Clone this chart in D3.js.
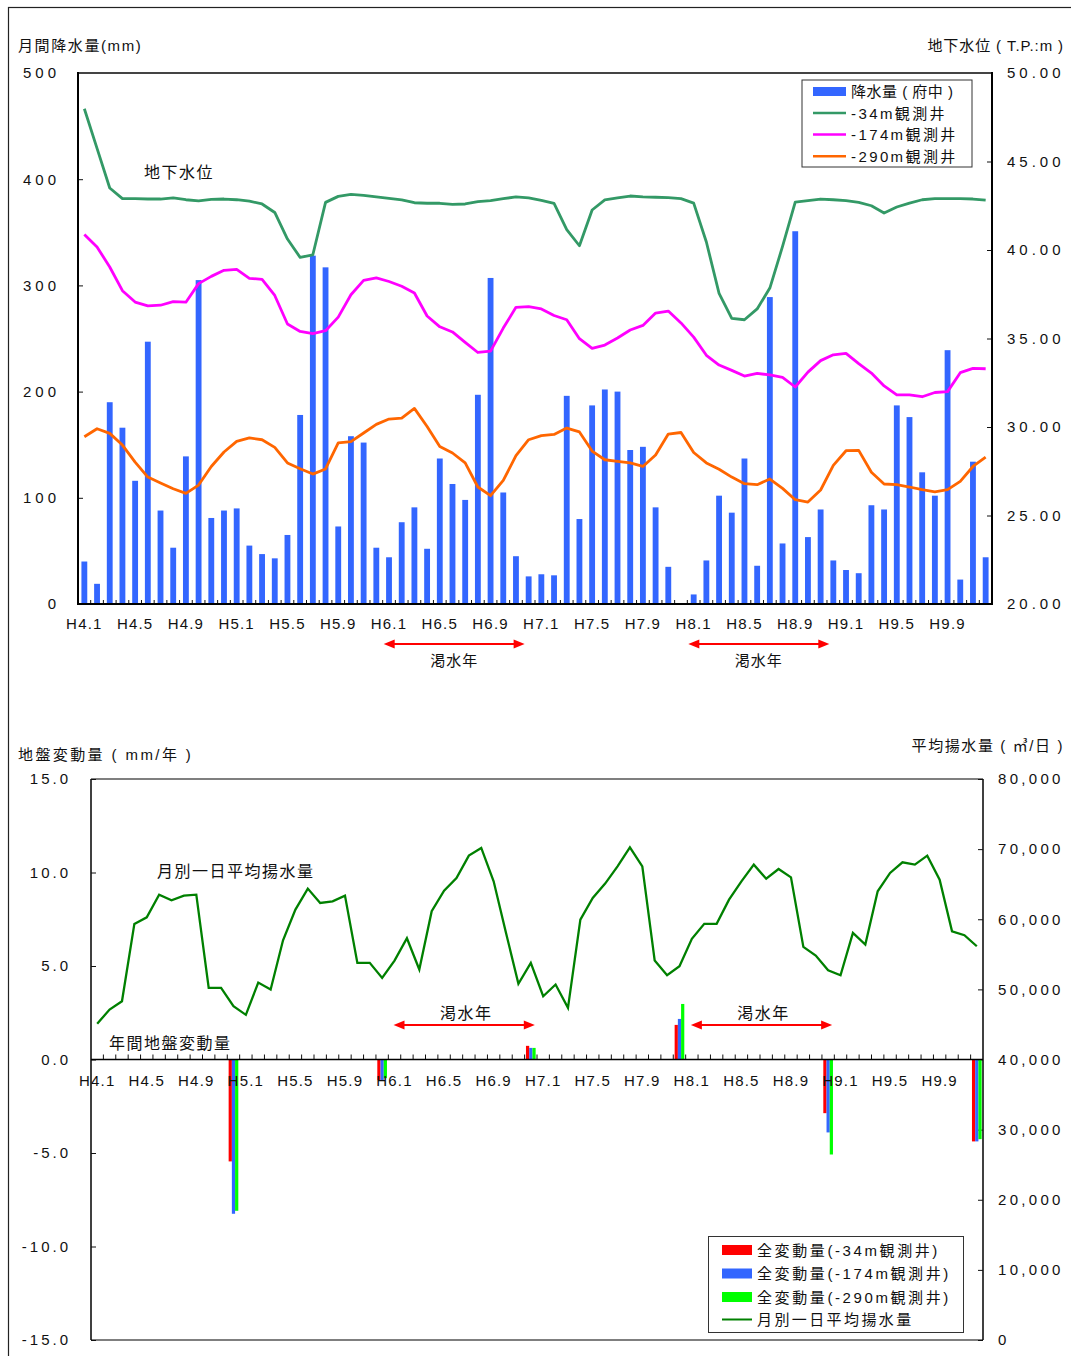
<!DOCTYPE html>
<head>
  <meta charset="utf-8">
  <title>降水量・地下水位・地盤変動量</title>
  <style>
    body { margin: 0; background: #fff; }
    svg { font-family: 'Liberation Sans', Arial, 'Noto Sans CJK JP', sans-serif; fill: #111; }
    .tick text { font-size: 15px; fill: #111; }
  </style>
</head>
<body>
  <div id="chart"></div>
  <script src="https://d3js.org/d3.v7.min.js"></script>
  <script>
    // categories
    let years = [4, 5, 6, 7, 8, 9];
    let months = years.flatMap(y => d3.range(1, 13).map(m => `H${y}.${m}`));
    let tickLabels = ['H4.1', 'H4.5', 'H4.9', 'H5.1', 'H5.5', 'H5.9', 'H6.1', 'H6.5', 'H6.9',
      'H7.1', 'H7.5', 'H7.9', 'H8.1', 'H8.5', 'H8.9', 'H9.1', 'H9.5', 'H9.9'];

    // monthly rainfall (mm)
    let rain = [40, 19, 190, 166, 116, 247, 88, 53, 139, 305, 81, 88,
      90, 55, 47, 43, 65, 178, 328, 317, 73, 158, 152, 53,
      44, 77, 91, 52, 137, 113, 98, 197, 307, 105, 45, 26,
      28, 27, 196, 80, 187, 202, 200, 145, 148, 91, 35, 0,
      9, 41, 102, 86, 137, 36, 289, 57, 351, 63, 89, 41,
      32, 29, 93, 89, 187, 176, 124, 102, 239, 23, 134, 44];

    // groundwater level (T.P. m)
    let well34 = [47.98, 45.74, 43.5, 42.9, 42.9, 42.88, 42.88, 42.94, 42.84, 42.77, 42.86, 42.88,
      42.84, 42.76, 42.6, 42.12, 40.62, 39.58, 39.73, 42.69, 43.03, 43.14, 43.09, 43.0,
      42.92, 42.83, 42.67, 42.64, 42.64, 42.58, 42.6, 42.73, 42.79, 42.9, 43.0, 42.94,
      42.81, 42.64, 41.15, 40.24, 42.26, 42.83, 42.94, 43.05, 43.0, 42.98, 42.96, 42.9,
      42.65, 40.45, 37.55, 36.14, 36.06, 36.67, 37.85, 40.2, 42.71, 42.79, 42.88, 42.84,
      42.79, 42.69, 42.5, 42.09, 42.43, 42.65, 42.84, 42.9, 42.9, 42.9, 42.88, 42.82];
    let well174 = [40.88, 40.17, 39.04, 37.7, 37.06, 36.84, 36.88, 37.08, 37.05, 38.1, 38.51, 38.85,
      38.9, 38.4, 38.34, 37.43, 35.82, 35.4, 35.27, 35.44, 36.21, 37.47, 38.28, 38.42,
      38.22, 37.95, 37.57, 36.27, 35.66, 35.37, 34.78, 34.21, 34.29, 35.59, 36.76, 36.8,
      36.67, 36.3, 36.06, 34.99, 34.44, 34.63, 35.03, 35.48, 35.74, 36.44, 36.55, 35.88,
      35.08, 34.05, 33.5, 33.2, 32.88, 33.03, 32.94, 32.8, 32.26, 33.1, 33.75, 34.08,
      34.16, 33.58, 33.05, 32.32, 31.81, 31.82, 31.71, 31.95, 32.0, 33.07, 33.31, 33.29];
    let well290 = [29.45, 29.9, 29.64, 28.98, 28.02, 27.17, 26.84, 26.51, 26.25, 26.72, 27.77, 28.59,
      29.19, 29.38, 29.28, 28.85, 27.97, 27.64, 27.34, 27.63, 29.1, 29.17, 29.66, 30.15,
      30.45, 30.5, 31.05, 30.03, 28.9, 28.53, 27.97, 26.61, 26.12, 26.98, 28.38, 29.28,
      29.51, 29.58, 29.94, 29.72, 28.64, 28.15, 28.06, 27.97, 27.77, 28.42, 29.6, 29.69,
      28.56, 27.97, 27.61, 27.17, 26.8, 26.74, 27.06, 26.53, 25.89, 25.76, 26.44, 27.83,
      28.66, 28.68, 27.44, 26.78, 26.74, 26.61, 26.46, 26.34, 26.46, 26.93, 27.77, 28.3];

    // monthly average daily pumping (m3/day)
    let pumping = [45090, 47130, 48310, 59340, 60280, 63510, 62700, 63370, 63510, 50210, 50210, 47600,
      46370, 50970, 49980, 57000, 61380, 64370, 62330, 62560, 63370, 53780, 53780, 51640,
      54110, 57290, 52830, 61140, 64080, 65890, 69070, 70170, 65410, 58050, 50790, 53780,
      49020, 50690, 47360, 59950, 63040, 65080, 67550, 70260, 67550, 54110, 52020, 53300,
      57200, 59340, 59340, 62800, 65410, 67790, 65790, 67170, 65980, 56060, 54820, 52730,
      52010, 58050, 56390, 63980, 66600, 68120, 67790, 69070, 65650, 58290, 57720, 56150];

    // annual ground subsidence (mm/year)
    let yearEnds = ['H4.12', 'H5.12', 'H6.12', 'H7.12', 'H8.12', 'H9.12'];
    let chg34 = [-5.45, -1.1, 0.73, 1.85, -2.87, -4.38];
    let chg174 = [-8.25, -1.1, 0.62, 2.17, -3.9, -4.38];
    let chg290 = [-8.09, -1.0, 0.62, 2.97, -5.08, -4.26];

    let droughts = [['H6.1', 'H6.12'], ['H8.1', 'H8.12']];

    let svg = d3.select('#chart').append('svg')
      .attr('width', 1071).attr('height', 1356);

    svg.append('rect').attr('x', 8.5).attr('y', 7.5).attr('width', 1080).attr('height', 1370)
      .attr('fill', 'none').attr('stroke', '#222').attr('stroke-width', 1.2);

    function arrow(g, x0, x1, y) {
      g.append('line').attr('x1', x0 + 9).attr('x2', x1 - 9).attr('y1', y).attr('y2', y)
        .attr('stroke', '#ff0000').attr('stroke-width', 2);
      g.append('path').attr('fill', '#ff0000')
        .attr('d', `M${x0},${y}L${x0 + 11},${y - 4.5}L${x0 + 11},${y + 4.5}Z`);
      g.append('path').attr('fill', '#ff0000')
        .attr('d', `M${x1},${y}L${x1 - 11},${y - 4.5}L${x1 - 11},${y + 4.5}Z`);
    }

    function label(txt, x, y, size, anchor, ls) {
      svg.append('text').attr('x', x).attr('y', y).attr('font-size', size)
        .attr('text-anchor', anchor || 'start').attr('letter-spacing', ls || 0)
        .text(txt);
    }

    // ---------- top chart ----------
    let t = { left: 78, right: 992, top: 73, bottom: 604 };
    let x1 = d3.scaleBand().domain(months).range([t.left, t.right]);
    let bw1 = x1.bandwidth();
    let yRain = d3.scaleLinear().domain([0, 500]).range([t.bottom, t.top]);
    let yLevel = d3.scaleLinear().domain([20, 50]).range([t.bottom, t.top]);

    svg.selectAll('.rain').data(rain).join('rect')
      .attr('class', 'rain')
      .attr('x', (d, i) => x1(months[i]) + bw1 * 0.27)
      .attr('width', bw1 * 0.46)
      .attr('y', d => yRain(d))
      .attr('height', d => yRain(0) - yRain(d))
      .attr('fill', '#3366ff');

    let lineTop = d3.line().x((d, i) => x1(months[i]) + bw1 / 2).y(d => yLevel(d));
    [[well34, '#339966'], [well174, '#ff00ff'], [well290, '#ff6600']].forEach(([s, c]) => {
      svg.append('path').datum(s).attr('d', lineTop)
        .attr('fill', 'none').attr('stroke', c).attr('stroke-width', 2.8)
        .attr('stroke-linejoin', 'round');
    });

    svg.append('g').attr('transform', `translate(${t.left},0)`)
      .call(d3.axisLeft(yRain).tickValues(d3.range(0, 501, 100)).tickSize(-5).tickPadding(18))
      .call(g => g.select('.domain').remove())
      .call(g => g.selectAll('.tick text').attr('letter-spacing', 4))
      .call(g => g.selectAll('.tick line').attr('stroke', '#111'));
    svg.append('g').attr('transform', `translate(${t.right},0)`)
      .call(d3.axisRight(yLevel).tickValues(d3.range(20, 51, 5)).tickSize(-5).tickPadding(15)
        .tickFormat(d3.format('.2f')))
      .call(g => g.select('.domain').remove())
      .call(g => g.selectAll('.tick text').attr('letter-spacing', 4))
      .call(g => g.selectAll('.tick line').attr('stroke', '#111'));
    svg.append('g').attr('transform', `translate(0,${t.bottom})`)
      .call(d3.axisBottom(x1).tickValues(tickLabels).tickSize(0).tickPadding(14))
      .call(g => g.select('.domain').remove())
      .call(g => g.selectAll('.tick text').attr('font-size', 14).attr('letter-spacing', 1.2));
    svg.append('g').selectAll('line').data(months.slice(1)).join('line')
      .attr('x1', d => x1(d)).attr('x2', d => x1(d))
      .attr('y1', t.bottom).attr('y2', t.bottom - 4)
      .attr('stroke', '#111').attr('stroke-width', 1);

    svg.append('line').attr('x1', t.left).attr('x2', t.right).attr('y1', t.top).attr('y2', t.top)
      .attr('stroke', '#444').attr('stroke-width', 2);
    svg.append('line').attr('x1', t.left).attr('x2', t.right).attr('y1', t.bottom).attr('y2', t.bottom)
      .attr('stroke', '#000').attr('stroke-width', 2);
    [t.left, t.right].forEach(x => svg.append('line').attr('x1', x).attr('x2', x)
      .attr('y1', t.top - 1).attr('y2', t.bottom + 1).attr('stroke', '#000').attr('stroke-width', 2));

    label('月間降水量(mm)', 18, 51, 15, 'start', 1.6);
    label('地下水位 ( T.P.:m )', 1064, 51, 15, 'end', 0.9);
    label('地下水位', 144, 178, 16, 'start', 1.5);

    let arrTop = svg.append('g');
    droughts.forEach(([a, b]) => {
      let xa = x1(a) + 1, xb = x1(b) + bw1 / 2 - 4;
      arrow(arrTop, xa, xb, 644);
      label('渇水年', (xa + xb) / 2, 666, 15, 'middle', 1);
    });

    let lg1 = svg.append('g');
    lg1.append('rect').attr('x', 802).attr('y', 80).attr('width', 170).attr('height', 87)
      .attr('fill', '#fff').attr('stroke', '#333').attr('stroke-width', 1);
    lg1.append('rect').attr('x', 813).attr('y', 87).attr('width', 33).attr('height', 9).attr('fill', '#3366ff');
    [['-34m観測井', '#339966'], ['-174m観測井', '#ff00ff'], ['-290m観測井', '#ff6600']].forEach(([txt, c], i) => {
      let y = 113 + i * 21.6;
      lg1.append('line').attr('x1', 813).attr('x2', 846).attr('y1', y).attr('y2', y)
        .attr('stroke', c).attr('stroke-width', 2.5);
      lg1.append('text').attr('x', 851).attr('y', y + 5.5).attr('font-size', 15)
        .attr('letter-spacing', 2.4).text(txt);
    });
    lg1.append('text').attr('x', 851).attr('y', 97).attr('font-size', 15).attr('letter-spacing', 0.5)
      .text('降水量 ( 府中 )');

    // ---------- bottom chart ----------
    let b = { left: 91, right: 983, top: 779, bottom: 1340 };
    let x2 = d3.scaleBand().domain(months).range([b.left, b.right]);
    let bw2 = x2.bandwidth();
    let yChg = d3.scaleLinear().domain([-15, 15]).range([b.bottom, b.top]);
    let yPump = d3.scaleLinear().domain([0, 80000]).range([b.bottom, b.top]);

    svg.append('line').attr('x1', b.left).attr('x2', b.right).attr('y1', b.top).attr('y2', b.top)
      .attr('stroke', '#555').attr('stroke-width', 1.5);
    svg.append('line').attr('x1', b.left).attr('x2', b.right).attr('y1', b.bottom).attr('y2', b.bottom)
      .attr('stroke', '#555').attr('stroke-width', 1.5);
    [b.left, b.right].forEach(x => svg.append('line').attr('x1', x).attr('x2', x)
      .attr('y1', b.top).attr('y2', b.bottom).attr('stroke', '#000').attr('stroke-width', 1.5));

    svg.append('g').attr('transform', `translate(${b.left},0)`)
      .call(d3.axisLeft(yChg).tickValues(d3.range(-15, 16, 5)).tickSize(-5).tickPadding(20)
        .tickFormat(d => d.toFixed(1)))
      .call(g => g.select('.domain').remove())
      .call(g => g.selectAll('.tick text').attr('letter-spacing', 3))
      .call(g => g.selectAll('.tick line').attr('stroke', '#111'));
    svg.append('g').attr('transform', `translate(${b.right},0)`)
      .call(d3.axisRight(yPump).tickValues(d3.range(0, 80001, 10000)).tickSize(-5).tickPadding(15)
        .tickFormat(d => d === 0 ? '0' : d3.format(',')(d)))
      .call(g => g.select('.domain').remove())
      .call(g => g.selectAll('.tick text').attr('letter-spacing', 3.3))
      .call(g => g.selectAll('.tick line').attr('stroke', '#111'));

    let zeroY = yChg(0);
    svg.append('g').selectAll('line').data(months.slice(1)).join('line')
      .attr('x1', d => x2(d)).attr('x2', d => x2(d))
      .attr('y1', zeroY).attr('y2', zeroY - 5)
      .attr('stroke', '#111').attr('stroke-width', 1);

    let sub = bw2 * 0.26;
    [[chg34, '#ff0000'], [chg174, '#3366ff'], [chg290, '#00ff00']].forEach(([s, c], k) => {
      svg.append('g').selectAll('rect').data(s).join('rect')
        .attr('x', (d, i) => x2(yearEnds[i]) + bw2 / 2 - 1.5 * sub + k * sub)
        .attr('width', sub)
        .attr('y', d => Math.min(yChg(d), zeroY))
        .attr('height', d => Math.abs(yChg(d) - zeroY))
        .attr('fill', c);
    });

    svg.append('line').attr('x1', b.left).attr('x2', b.right).attr('y1', zeroY).attr('y2', zeroY)
      .attr('stroke', '#000').attr('stroke-width', 1.5);

    svg.append('g').attr('transform', `translate(0,${zeroY})`)
      .call(d3.axisBottom(x2).tickValues(tickLabels).tickSize(0).tickPadding(16))
      .call(g => g.select('.domain').remove())
      .call(g => g.selectAll('.tick text').attr('font-size', 14).attr('letter-spacing', 1.2));

    let linePump = d3.line().x((d, i) => x2(months[i]) + bw2 / 2).y(d => yPump(d));
    svg.append('path').datum(pumping).attr('d', linePump)
      .attr('fill', 'none').attr('stroke', '#008000').attr('stroke-width', 2.3);

    label('地盤変動量 ( mm/年 )', 18, 760, 15, 'start', 2.4);
    label('平均揚水量 ( ㎥/日 )', 1064, 751, 15, 'end', 1.6);
    label('月別一日平均揚水量', 157, 877, 16, 'start', 1.5);
    label('年間地盤変動量', 109, 1049, 16, 'start', 1.5);

    let arrBot = svg.append('g');
    droughts.forEach(([a, c]) => {
      let xa = x2(a) + bw2 / 2 - 1, xb = x2(c) + bw2 / 2 + 4;
      arrow(arrBot, xa, xb, 1025);
      label('渇水年', (xa + xb) / 2 + 2, 1019, 16, 'middle', 1.5);
    });

    let lg2 = svg.append('g');
    lg2.append('rect').attr('x', 708.5).attr('y', 1236.5).attr('width', 255).attr('height', 96)
      .attr('fill', '#fff').attr('stroke', '#333').attr('stroke-width', 1);
    [['全変動量(-34m観測井)', '#ff0000'], ['全変動量(-174m観測井)', '#3366ff'],
     ['全変動量(-290m観測井)', '#00ff00']].forEach(([txt, c], i) => {
      let y = 1250 + i * 23.5;
      lg2.append('rect').attr('x', 722).attr('y', y - 5).attr('width', 30).attr('height', 10).attr('fill', c);
      lg2.append('text').attr('x', 757).attr('y', y + 5.5).attr('font-size', 15)
        .attr('letter-spacing', 2.6).text(txt);
    });
    lg2.append('line').attr('x1', 722).attr('x2', 752).attr('y1', 1319.5).attr('y2', 1319.5)
      .attr('stroke', '#008000').attr('stroke-width', 2);
    lg2.append('text').attr('x', 757).attr('y', 1325).attr('font-size', 15)
      .attr('letter-spacing', 2.4).text('月別一日平均揚水量');
  </script>
</body>
</html>
